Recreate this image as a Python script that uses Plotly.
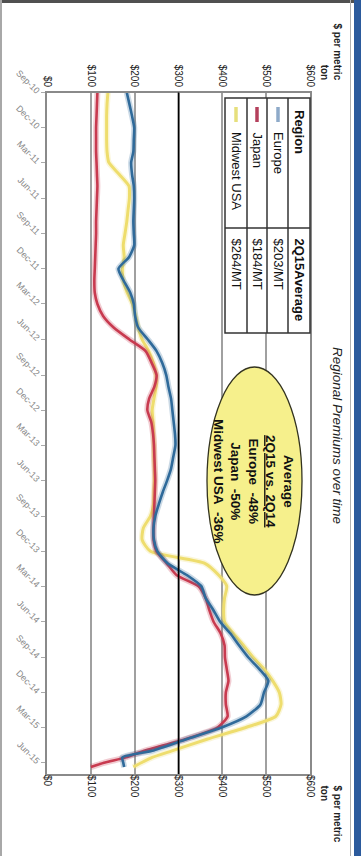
import pandas as pd
import plotly.graph_objects as go

# Monthly observations (first of month), plus three readings in May/June 2015
dates = list(pd.date_range("2010-09-01", "2015-05-01", freq="MS").strftime("%Y-%m-%d")) + [
    "2015-05-18", "2015-06-01", "2015-06-12"]

# Regional aluminium premiums, $ per metric ton
europe = [182, 188, 194, 199, 198, 197, 192, 194, 198, 199,
          198, 197, 198, 199, 187, 163, 175, 190, 198, 201,
          208, 230, 250, 263, 272, 277, 283, 286, 289, 292,
          293, 288, 283, 274, 264, 255, 247, 243, 244, 252,
          275, 320, 352, 362, 379, 395, 418, 438, 459, 484,
          505, 495, 487, 455, 400, 318, 240,
          172, 174, 176]
japan = [115, 114, 113, 112, 112, 112, 113, 114, 115, 114,
         113, 112, 112, 111, 110, 109, 108, 109, 115, 128,
         152, 188, 225, 239, 250, 245, 233, 229, 238, 242,
         244, 245, 246, 247, 246, 245, 244, 243, 243, 250,
         273, 296, 345, 362, 370, 380, 396, 405, 406, 410,
         414, 408, 408, 412, 390, 315, 222,
         180, 130, 100]
midwest = [139, 137, 136, 136, 136, 137, 141, 165, 187, 188,
           185, 182, 178, 174, 176, 172, 174, 183, 195, 202,
           208, 217, 232, 243, 249, 249, 244, 240, 242, 243,
           244, 244, 245, 245, 244, 243, 236, 220, 217, 236,
           360, 392, 410, 405, 403, 405, 425, 448, 470, 495,
           515, 530, 534, 522, 455, 365, 285,
           240, 215, 197]

regions = ["Europe", "Japan", "Midwest USA"]
avg_2q15 = ["$203/MT", "$184/MT", "$264/MT"]
change_vs_2q14 = ["-48%", "-50%", "-36%"]
reference_level = 300

line_colors = {"Europe": "#2f6a9a", "Japan": "#c83a4f", "Midwest USA": "#eedd6e"}
swatch_colors = {"Europe": "#8eaac9", "Japan": "#b4405c", "Midwest USA": "#e6df7c"}

W, H = 361, 856


def px(x):
    return x / W


def py(y):
    return 1 - y / H


fig = go.Figure()

series = [("Midwest USA", midwest, "x"), ("Japan", japan, "x"), ("Europe", europe, "x2")]
for name, vals, xa in series:
    # soft halo under each line
    fig.add_trace(go.Scatter(x=vals, y=dates, xaxis=xa, yaxis="y", mode="lines",
                             line=dict(color=line_colors[name], width=6, shape="spline", smoothing=0.6),
                             opacity=0.25, hoverinfo="skip", showlegend=False))
    fig.add_trace(go.Scatter(x=vals, y=dates, xaxis=xa, yaxis="y", mode="lines", name=name,
                             line=dict(color=line_colors[name], width=2.6 if name != "Midwest USA" else 3,
                                       shape="spline", smoothing=0.6),
                             showlegend=False))

value_axis = dict(range=[0, 600], tick0=0, dtick=100, tickprefix="$", tickangle=90,
                  domain=[px(47), px(310)], zeroline=False, ticks="", automargin=False,
                  tickfont=dict(family="Arial, Liberation Sans", size=10, color="#222"))
fig.update_layout(
    template="none",
    width=W, height=H, margin=dict(l=0, r=0, t=0, b=0, pad=0), autosize=False,
    paper_bgcolor="white", plot_bgcolor="white",
    xaxis=dict(**value_axis, side="top", showgrid=True, gridcolor="#a0a0a0", gridwidth=1.5,
               showline=True, mirror=True, linecolor="#8a8a8a", linewidth=2),
    xaxis2=dict(**value_axis, side="bottom", overlaying="x", matches="x", showgrid=False),
    yaxis=dict(type="date", range=["2015-06-30", "2010-09-01"], domain=[py(774), py(92.5)],
               tick0="2010-09-01", dtick="M3", tickformat="%b-%y", tickangle=45, automargin=False,
               ticks="outside", ticklen=4, tickcolor="#aaa", showgrid=False, zeroline=False,
               showline=True, mirror=True, linecolor="#8a8a8a", linewidth=2,
               tickfont=dict(family="Arial, Liberation Sans", size=9, color="#888")),
)

shapes = []
# reference line at $300
shapes.append(dict(type="line", xref="x", x0=reference_level, x1=reference_level,
                   yref="y domain", y0=0, y1=1, line=dict(color="black", width=1.6), layer="above"))

# page frame
shapes.append(dict(type="rect", xref="paper", yref="paper", x0=0, x1=px(354), y0=py(3), y1=1,
                   fillcolor="#505050", line=dict(width=0)))
shapes.append(dict(type="rect", xref="paper", yref="paper", x0=0, x1=px(2), y0=0, y1=1,
                   fillcolor="#a8a8a8", line=dict(width=0)))
shapes.append(dict(type="line", xref="paper", yref="paper", x0=px(350.5), x1=px(350.5), y0=0, y1=1,
                   line=dict(color="#b0b0b0", width=1)))
shapes.append(dict(type="rect", xref="paper", yref="paper", x0=px(354), x1=1, y0=0, y1=1,
                   fillcolor="#2b5a9c", line=dict(width=0)))

# legend table
tx0, tx1, ty0, ty1 = 225, 310, 98, 333
shapes.append(dict(type="rect", xref="paper", yref="paper", x0=px(tx0), x1=px(tx1), y0=py(ty1), y1=py(ty0),
                   fillcolor="white", line=dict(color="#333", width=1.5), layer="above"))
for xr in (247, 267, 288):
    shapes.append(dict(type="line", xref="paper", yref="paper", x0=px(xr), x1=px(xr), y0=py(ty1), y1=py(ty0),
                       line=dict(color="#333", width=1.5), layer="above"))
shapes.append(dict(type="line", xref="paper", yref="paper", x0=px(tx0), x1=px(tx1), y0=py(228), y1=py(228),
                   line=dict(color="#333", width=1.5), layer="above"))

row_x = [278, 257, 236]
for name, xc in zip(regions, row_x):
    shapes.append(dict(type="line", xref="paper", yref="paper", x0=px(xc), x1=px(xc), y0=py(107), y1=py(122),
                       line=dict(color=swatch_colors[name], width=3.5), layer="above"))

# callout ellipse
shapes.append(dict(type="circle", xref="paper", yref="paper", x0=px(207), x1=px(302), y0=py(595), y1=py(367),
                   fillcolor="#f6f08c", line=dict(color="#33331f", width=1.3), layer="above"))
fig.update_layout(shapes=shapes)

F = "Arial, Liberation Sans"
ann = []


def rot_text(text, x, y, size, yanchor="top", bold=False, italic=False, color="#111", align="left"):
    if bold:
        text = "<b>" + text + "</b>"
    if italic:
        text = "<i>" + text + "</i>"
    ann.append(dict(text=text, x=px(x), y=py(y), xref="paper", yref="paper", showarrow=False,
                    textangle=90, xanchor="center", yanchor=yanchor, align=align,
                    font=dict(family=F, size=size, color=color)))


rot_text("Regional Premiums over time", 338, 435, 13.5, yanchor="middle", italic=True, color="#222")
rot_text("$ per metric<br>ton", 331, 82, 10, yanchor="bottom", bold=True, align="right", color="#222")
rot_text("$ per metric<br>ton", 331, 783, 10, yanchor="top", bold=True, align="left", color="#222")

rot_text("Region", 299, 108, 13, bold=True)
rot_text("2Q15Average", 299, 236, 13, bold=True)
for name, avg, xc in zip(regions, avg_2q15, row_x):
    rot_text(name, xc, 130, 13)
    rot_text(avg, xc, 236, 13)

callout = ["Average", "<u>2Q15 vs. 2Q14</u>"] + [
    f"{r}\u00a0\u00a0{c}" for r, c in zip(regions, change_vs_2q14)]
rot_text("<br>".join(callout), 254, 481, 13.5, yanchor="middle", bold=True, align="center")

fig.update_layout(annotations=ann)
fig.write_html("out.html")
